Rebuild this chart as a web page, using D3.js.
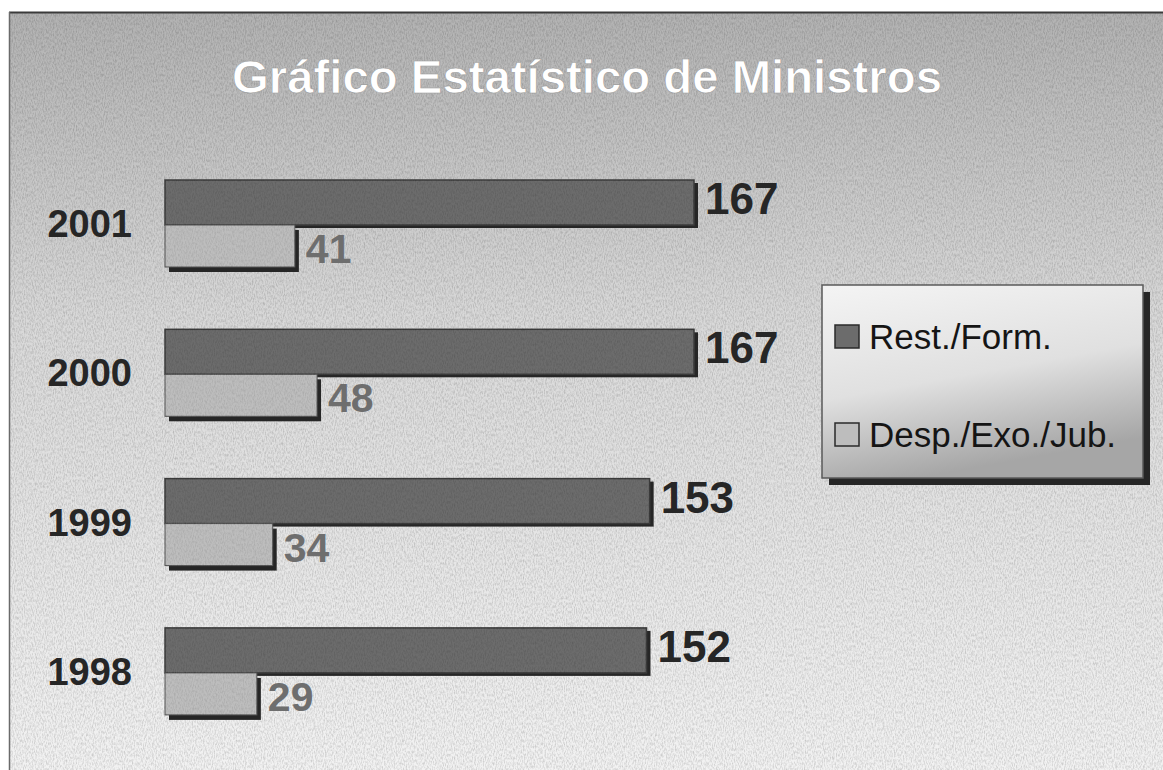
<!DOCTYPE html>
<html>
<head>
<meta charset="utf-8">
<script src="https://cdn.jsdelivr.net/npm/d3@7"></script>
<style>
    body { margin: 0; background: #ffffff; }
    #chart-area { width: 1163px; height: 770px; }
    text { font-family: "Liberation Sans", Arial, sans-serif; }
</style>
</head>
<body>
<div id="chart-area"></div>
<script>

// chart values
const years = ["2001", "2000", "1999", "1998"];
const restForm = [167, 167, 153, 152];
const despExoJub = [41, 48, 34, 29];
const seriesNames = ["Rest./Form.", "Desp./Exo./Jub."];
const chartTitle = "Gráfico Estatístico de Ministros";


class MinistrosChart {

    constructor(parentElement) {
        this.parentElement = parentElement;
        this.initVis();
    }

    initVis() {
        let vis = this;
        vis.width = 1163;
        vis.height = 770;

        vis.svg = d3.select("#" + vis.parentElement).append("svg")
            .attr("width", vis.width)
            .attr("height", vis.height);

        let defs = vis.svg.append("defs");

        // slide background, darker at the top
        let bg = defs.append("linearGradient")
            .attr("id", "bg-grad")
            .attr("x1", 0).attr("y1", 0).attr("x2", 0).attr("y2", 1);
        bg.append("stop").attr("offset", "0%").attr("stop-color", "#b2b2b2");
        bg.append("stop").attr("offset", "40%").attr("stop-color", "#d8d8d8");
        bg.append("stop").attr("offset", "100%").attr("stop-color", "#f2f2f2");

        let lg = defs.append("linearGradient")
            .attr("id", "legend-grad")
            .attr("x1", 0).attr("y1", 0).attr("x2", 0.3).attr("y2", 1);
        lg.append("stop").attr("offset", "0%").attr("stop-color", "#f4f4f4");
        lg.append("stop").attr("offset", "55%").attr("stop-color", "#e0e0e0");
        lg.append("stop").attr("offset", "100%").attr("stop-color", "#a6a6a6");

        // scan-like grain
        let noise = defs.append("filter").attr("id", "grain")
            .attr("x", 0).attr("y", 0).attr("width", "100%").attr("height", "100%");
        noise.append("feTurbulence")
            .attr("type", "fractalNoise")
            .attr("baseFrequency", "0.9 0.35")
            .attr("numOctaves", 2)
            .attr("seed", 3);
        noise.append("feColorMatrix")
            .attr("type", "matrix")
            .attr("values", "0 0 0 0 0  0 0 0 0 0  0 0 0 0 0  0 0 0 -1.6 1.0");

        vis.svg.append("rect")
            .attr("x", 9).attr("y", 12)
            .attr("width", vis.width - 9).attr("height", vis.height - 12)
            .attr("fill", "url(#bg-grad)");

        vis.svg.append("rect")
            .attr("x", 9).attr("y", 12)
            .attr("width", vis.width - 9).attr("height", vis.height - 12)
            .attr("filter", "url(#grain)")
            .attr("opacity", 0.2);

        // frame lines
        vis.svg.append("line")
            .attr("x1", 9).attr("x2", vis.width).attr("y1", 12.5).attr("y2", 12.5)
            .attr("stroke", "#3a3a3a").attr("stroke-width", 2);
        vis.svg.append("line")
            .attr("x1", 9.5).attr("x2", 9.5).attr("y1", 12).attr("y2", vis.height)
            .attr("stroke", "#6a6a6a").attr("stroke-width", 1.5);

        vis.svg.append("text")
            .attr("x", 232)
            .attr("y", 93)
            .attr("font-size", 46)
            .attr("font-weight", "bold")
            .attr("fill", "#ffffff")
            .attr("stroke", "#9a9a9a")
            .attr("stroke-width", 0.6)
            .attr("textLength", 710)
            .attr("lengthAdjust", "spacingAndGlyphs")
            .text(chartTitle);

        // Scales
        vis.x = d3.scaleLinear()
            .domain([0, 167])
            .range([165, 694]);

        vis.y = d3.scaleBand()
            .domain(years)
            .range([180, 180 + 4 * 149.3]);

        vis.darkH = 45;
        vis.lightH = 42;

        vis.displayData = years.map((yr, i) => ({
            year: yr,
            rest: restForm[i],
            desp: despExoJub[i]
        }));

        vis.updateVis();
        vis.drawLegend();
    }

    updateVis() {
        let vis = this;

        let groups = vis.svg.selectAll(".year-group")
            .data(vis.displayData)
            .enter()
            .append("g")
            .attr("class", "year-group")
            .attr("transform", d => "translate(0," + vis.y(d.year) + ")");

        // shadows first
        groups.append("rect")
            .attr("x", vis.x(0) + 4)
            .attr("y", 3)
            .attr("width", d => vis.x(d.rest) - vis.x(0))
            .attr("height", vis.darkH)
            .attr("fill", "#262626");

        groups.append("rect")
            .attr("x", vis.x(0) + 4)
            .attr("y", vis.darkH + 5)
            .attr("width", d => vis.x(d.desp) - vis.x(0))
            .attr("height", vis.lightH)
            .attr("fill", "#262626");

        groups.append("rect")
            .attr("class", "rest-bar")
            .attr("x", vis.x(0))
            .attr("y", 0)
            .attr("width", d => vis.x(d.rest) - vis.x(0))
            .attr("height", vis.darkH)
            .attr("fill", "#6c6c6c")
            .attr("stroke", "#3c3c3c")
            .attr("stroke-width", 1.5);

        groups.append("rect")
            .attr("class", "desp-bar")
            .attr("x", vis.x(0))
            .attr("y", vis.darkH)
            .attr("width", d => vis.x(d.desp) - vis.x(0))
            .attr("height", vis.lightH)
            .attr("fill", "#bdbdbd")
            .attr("stroke", "#555555")
            .attr("stroke-width", 1);

        // grain on bars
        groups.append("rect")
            .attr("x", vis.x(0))
            .attr("y", 0)
            .attr("width", d => vis.x(d.rest) - vis.x(0))
            .attr("height", vis.darkH)
            .attr("filter", "url(#grain)")
            .attr("opacity", 0.15);

        groups.append("rect")
            .attr("x", vis.x(0))
            .attr("y", vis.darkH)
            .attr("width", d => vis.x(d.desp) - vis.x(0))
            .attr("height", vis.lightH)
            .attr("filter", "url(#grain)")
            .attr("opacity", 0.12);

        groups.append("text")
            .attr("x", 132)
            .attr("y", 57)
            .attr("text-anchor", "end")
            .attr("font-size", 38)
            .attr("font-weight", "bold")
            .attr("fill", "#262626")
            .text(d => d.year);

        groups.append("text")
            .attr("x", d => vis.x(d.rest) + 11)
            .attr("y", 34)
            .attr("font-size", 44)
            .attr("font-weight", "bold")
            .attr("fill", "#262626")
            .text(d => d.rest);

        groups.append("text")
            .attr("x", d => vis.x(d.desp) + 11)
            .attr("y", vis.darkH + vis.lightH - 4)
            .attr("font-size", 41)
            .attr("font-weight", "bold")
            .attr("fill", "#6e6e6e")
            .text(d => d.desp);
    }

    drawLegend() {
        let vis = this;

        let legend = vis.svg.append("g")
            .attr("class", "legend")
            .attr("transform", "translate(822,285)");

        legend.append("rect")
            .attr("x", 7).attr("y", 7)
            .attr("width", 321).attr("height", 193)
            .attr("fill", "#262626");

        legend.append("rect")
            .attr("x", 0).attr("y", 0)
            .attr("width", 321).attr("height", 193)
            .attr("fill", "url(#legend-grad)")
            .attr("stroke", "#5a5a5a")
            .attr("stroke-width", 1.5);

        let swatchColors = ["#6c6c6c", "#bdbdbd"];
        let rowY = [40, 138];

        let items = legend.selectAll(".legend-item")
            .data(seriesNames)
            .enter()
            .append("g")
            .attr("class", "legend-item")
            .attr("transform", (d, i) => "translate(13," + rowY[i] + ")");

        items.append("rect")
            .attr("width", 24)
            .attr("height", 23)
            .attr("fill", (d, i) => swatchColors[i])
            .attr("stroke", "#2a2a2a")
            .attr("stroke-width", 1.5);

        items.append("text")
            .attr("x", 34)
            .attr("y", 24)
            .attr("font-size", 35)
            .attr("fill", "#151515")
            .text(d => d);
    }
}

let chart = new MinistrosChart("chart-area");

</script>
</body>
</html>
